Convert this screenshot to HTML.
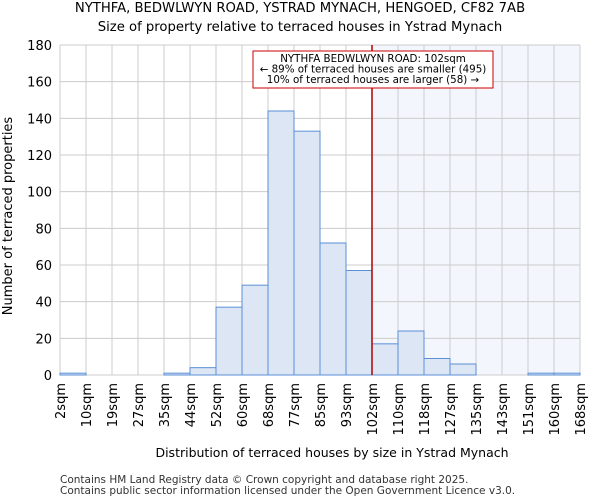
<!DOCTYPE html>
<html><head><meta charset="utf-8"><style>
body{margin:0;background:#fff;font-family:"DejaVu Sans","Liberation Sans",sans-serif}
svg text{font-family:"DejaVu Sans","Liberation Sans",sans-serif}
</style></head><body>
<svg id="c" width="600" height="500" xmlns="http://www.w3.org/2000/svg">
<text x="300" y="12" text-anchor="middle" font-size="13.2">NYTHFA, BEDWLWYN ROAD, YSTRAD MYNACH, HENGOED, CF82 7AB</text>
<text x="300" y="31" text-anchor="middle" font-size="13.2">Size of property relative to terraced houses in Ystrad Mynach</text>
<g id="plot"></g>
<text x="332" y="457" text-anchor="middle" font-size="12.5">Distribution of terraced houses by size in Ystrad Mynach</text>
<text transform="translate(12,216) rotate(-90)" text-anchor="middle" font-size="13">Number of terraced properties</text>
<text x="60" y="483" font-size="10.5" fill="#333">Contains HM Land Registry data © Crown copyright and database right 2025.</text>
<text x="60" y="494" font-size="10.5" fill="#333">Contains public sector information licensed under the Open Government Licence v3.0.</text>
</svg>
<script>
const labels=["2sqm","10sqm","19sqm","27sqm","35sqm","44sqm","52sqm","60sqm","68sqm","77sqm","85sqm","93sqm","102sqm","110sqm","118sqm","127sqm","135sqm","143sqm","151sqm","160sqm","168sqm"];
const counts=[1,0,0,0,1,4,37,49,144,133,72,57,17,24,9,6,0,0,1,1];
const yTicks=[0,20,40,60,80,100,120,140,160,180];
const markerBin=12;
const X0=60,X1=580,Y0=375,Y1=45,YMAX=180;
const bw=(X1-X0)/counts.length;
const xs=i=>X0+i*bw, ys=v=>Y0-(v/YMAX)*(Y0-Y1);
const NS="http://www.w3.org/2000/svg", g=document.getElementById('plot');
function mk(t,a){const e=document.createElementNS(NS,t);for(const k in a)e.setAttribute(k,a[k]);g.appendChild(e);return e;}
const sh=mk('rect',{x:xs(markerBin),y:Y1,width:X1-xs(markerBin),height:Y0-Y1,fill:'#f4f6fd'});


yTicks.forEach(v=>{const l=mk('line',{x1:X0,x2:X1,y1:ys(v),y2:ys(v),stroke:'#ccc','stroke-width':1});


const t=mk('text',{x:X0-8,y:ys(v)+5,'text-anchor':'end','font-size':13});t.textContent=v;

});
labels.forEach((s,i)=>{const l=mk('line',{x1:xs(i),x2:xs(i),y1:Y1,y2:Y0,stroke:'#ccc','stroke-width':1});


const t=mk('text',{transform:`translate(${xs(i)+5},${Y0+8}) rotate(-90)`,'text-anchor':'end','font-size':13});t.textContent=s;

});
counts.forEach((c,i)=>{if(c<=0)return;const r=mk('rect',{x:xs(i),y:ys(c),width:bw,height:Y0-ys(c),fill:'#dce6f5',stroke:'#5b8fd6','stroke-width':1});

});
const m=mk('line',{x1:xs(markerBin),x2:xs(markerBin),y1:Y1,y2:Y0,stroke:'#b00000','stroke-width':1.5});


const b=mk('rect',{x:253,y:51,width:240,height:37,fill:'#fff',stroke:'#c00','stroke-width':1});


["NYTHFA BEDWLWYN ROAD: 102sqm","← 89% of terraced houses are smaller (495)","10% of terraced houses are larger (58) →"].forEach((s,i)=>{const t=mk('text',{x:373,y:62+i*10.5,'text-anchor':'middle','font-size':10.3});t.textContent=s;

});
</script>
</body></html>
